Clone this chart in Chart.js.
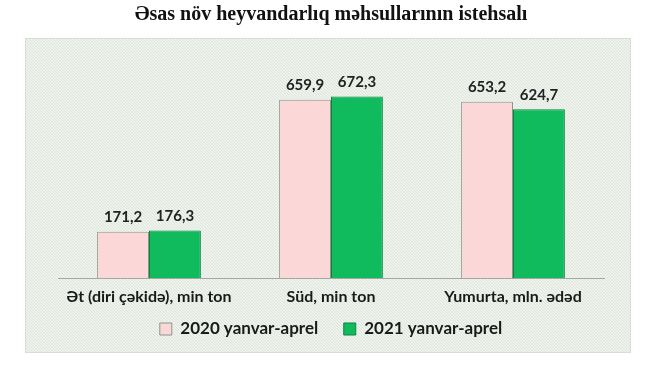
<!DOCTYPE html>
<html>
<head>
<meta charset="utf-8">
<script src="https://cdn.jsdelivr.net/npm/chart.js@4/dist/chart.umd.min.js"></script>
<style>
  html, body { margin: 0; padding: 0; background: #ffffff; }
  #c { display: block; }
</style>
</head>
<body>
<canvas id="c" width="650" height="379"></canvas>
<script>
const titleText = "Əsas növ heyvandarlıq məhsullarının istehsalı";
const categories = ["Ət (diri çəkidə), min ton", "Süd, min ton", "Yumurta, mln. ədəd"];
const seriesLabels = ["2020 yanvar-aprel", "2021 yanvar-aprel"];
const values2020 = [171.2, 659.9, 653.2];
const values2021 = [176.3, 672.3, 624.7];

const fmt = v => v.toFixed(1).replace('.', ',');

const panelPlugin = {
  id: 'panel',
  beforeDraw(chart) {
    const ctx = chart.ctx;
    ctx.save();
    const x = 25, y = 38, w = 606, h = 315;
    ctx.fillStyle = '#eff3ed';
    ctx.fillRect(x, y, w, h);
    ctx.beginPath();
    ctx.rect(x, y, w, h);
    ctx.clip();
    ctx.strokeStyle = 'rgba(200,212,198,0.45)';
    ctx.lineWidth = 1;
    for (let i = -h; i < w; i += 3) {
      ctx.beginPath();
      ctx.moveTo(x + i, y);
      ctx.lineTo(x + i + h, y + h);
      ctx.stroke();
    }
    ctx.restore();
    ctx.save();
    ctx.strokeStyle = '#d9ddd7';
    ctx.lineWidth = 1;
    ctx.strokeRect(x + 0.5, y + 0.5, w - 1, h - 1);
    ctx.restore();
  }
};

const labelPlugin = {
  id: 'valueLabels',
  afterDatasetsDraw(chart) {
    const ctx = chart.ctx;
    ctx.save();
    ctx.font = 'bold 15px Lato';
    ctx.fillStyle = '#222222';
    ctx.textAlign = 'center';
    ctx.textBaseline = 'bottom';
    chart.data.datasets.forEach((ds, di) => {
      const meta = chart.getDatasetMeta(di);
      meta.data.forEach((bar, i) => {
        ctx.fillText(fmt(ds.data[i]), bar.x, bar.y - 7);
      });
    });
    ctx.restore();
  }
};

// shift the library-drawn legend up, closer to the axis labels
const legendShiftPlugin = {
  id: 'legendShift',
  afterInit(chart) {
    const lg = chart.legend;
    if (!lg) return;
    const orig = lg.draw.bind(lg);
    lg.draw = function (area) {
      const c = this.ctx;
      c.save();
      c.translate(0, -21);
      orig(area);
      c.restore();
    };
  }
};

new Chart(document.getElementById('c'), {
  type: 'bar',
  data: {
    labels: categories,
    datasets: [
      {
        label: seriesLabels[0],
        data: values2020,
        backgroundColor: '#fbd7d7',
        borderColor: '#8c968a',
        borderWidth: 1,
        borderSkipped: 'bottom'
      },
      {
        label: seriesLabels[1],
        data: values2021,
        backgroundColor: '#0fbb5c',
        borderColor: '#0a8340',
        borderWidth: 1,
        borderSkipped: 'bottom'
      }
    ]
  },
  options: {
    responsive: false,
    animation: false,
    events: [],
    layout: { padding: { left: 58, right: 46, top: 0, bottom: 10.5 } },
    datasets: { bar: { barPercentage: 1.0, categoryPercentage: 0.57 } },
    scales: {
      x: {
        grid: { display: false, drawTicks: false },
        border: { display: true, color: '#a3a8a2', width: 1 },
        ticks: { padding: 9.4, color: '#1a1a1a', font: { family: 'Lato', weight: 'bold', size: 16, lineHeight: 1.2 } }
      },
      y: {
        display: false,
        min: 0,
        max: 800
      }
    },
    plugins: {
      title: {
        display: true,
        text: titleText,
        color: '#111111',
        font: { family: 'Liberation Serif', weight: 'bold', size: 20 },
        padding: { top: 3, bottom: 35 }
      },
      legend: {
        display: true,
        position: 'bottom',
        labels: {
          boxWidth: 12,
          boxHeight: 12,
          padding: 25.5,
          color: '#1a1a1a',
          font: { family: 'Lato', weight: 'bold', size: 17 }
        }
      },
      tooltip: { enabled: false }
    }
  },
  plugins: [panelPlugin, labelPlugin, legendShiftPlugin]
});
</script>
</body>
</html>
